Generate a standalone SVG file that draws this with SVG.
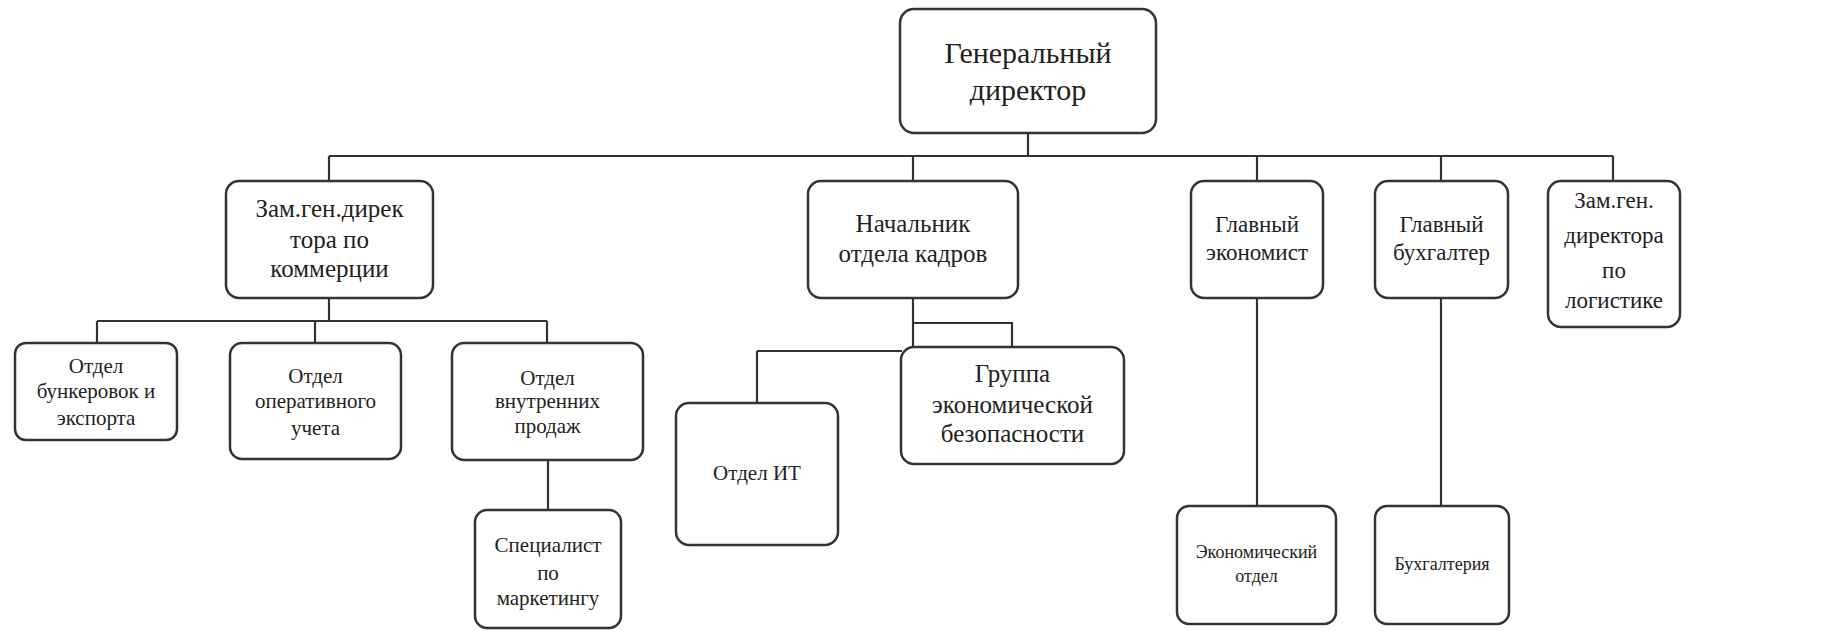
<svg xmlns="http://www.w3.org/2000/svg" width="1833" height="631" viewBox="0 0 1833 631">
<style>
.box{fill:#fff;stroke:#333;stroke-width:2.5}
.ln{fill:none;stroke:#333;stroke-width:2.2}
.t{font-family:'Liberation Serif',serif;fill:#222;text-anchor:middle}
.f1{font-size:30px}
.f2{font-size:25px}
.f5{font-size:23px}
.f3{font-size:21px}
.f4{font-size:18px}
</style>
<rect width="1833" height="631" fill="#fff"/>
<g id="connectors">
<path class="ln" d="M1028 133V156M329 156H1613M329 156V181M913 156V181M1257 156V181M1441 156V181M1613 156V181"/>
<path class="ln" d="M329 298V321M97 321H547M97 321V343M315 321V343M547 321V343M548 460V510"/>
<path class="ln" d="M913 298V347M913 323H1012V347M757 351H902M757 351V403"/>
<path class="ln" d="M1257 298V506M1441 298V506"/>
</g>
<g id="n-gendir"><rect class="box" x="900" y="9" width="256" height="124" rx="14"/><text class="t f1" x="1028" y="63">Генеральный</text><text class="t f1" x="1028" y="100">директор</text></g>
<g id="n-zamcom"><rect class="box" x="226" y="181" width="207" height="117" rx="13"/><text class="t f2" x="329.5" y="217">Зам.ген.дирек</text><text class="t f2" x="329.5" y="248">тора по</text><text class="t f2" x="329.5" y="277">коммерции</text></g>
<g id="n-hr"><rect class="box" x="808" y="181" width="210" height="117" rx="13"/><text class="t f2" x="913" y="232">Начальник</text><text class="t f2" x="913" y="262">отдела кадров</text></g>
<g id="n-econ"><rect class="box" x="1191" y="181" width="132" height="117" rx="13"/><text class="t f5" x="1257" y="232">Главный</text><text class="t f5" x="1257" y="260">экономист</text></g>
<g id="n-buh"><rect class="box" x="1375" y="181" width="133" height="117" rx="13"/><text class="t f5" x="1441.5" y="232">Главный</text><text class="t f5" x="1441.5" y="260">бухгалтер</text></g>
<g id="n-zamlog"><rect class="box" x="1548" y="181" width="132" height="146" rx="13"/><text class="t f5" x="1614" y="208">Зам.ген.</text><text class="t f5" x="1614" y="243">директора</text><text class="t f5" x="1614" y="278">по</text><text class="t f5" x="1614" y="308">логистике</text></g>
<g id="n-bunker"><rect class="box" x="15" y="343" width="162" height="97" rx="11"/><text class="t f3" x="96" y="373">Отдел</text><text class="t f3" x="96" y="398">бункеровок и</text><text class="t f3" x="96" y="425">экспорта</text></g>
<g id="n-oper"><rect class="box" x="230" y="343" width="171" height="116" rx="12"/><text class="t f3" x="315.5" y="383">Отдел</text><text class="t f3" x="315.5" y="408">оперативного</text><text class="t f3" x="315.5" y="435">учета</text></g>
<g id="n-sales"><rect class="box" x="452" y="343" width="191" height="117" rx="12"/><text class="t f3" x="547.5" y="385">Отдел</text><text class="t f3" x="547.5" y="408">внутренних</text><text class="t f3" x="547.5" y="433">продаж</text></g>
<g id="n-mkt"><rect class="box" x="475" y="510" width="146" height="118" rx="12"/><text class="t f3" x="548" y="552">Специалист</text><text class="t f3" x="548" y="580">по</text><text class="t f3" x="548" y="605">маркетингу</text></g>
<g id="n-it"><rect class="box" x="676" y="403" width="162" height="142" rx="13"/><text class="t f3" x="757" y="480">Отдел ИТ</text></g>
<g id="n-sec"><rect class="box" x="901" y="347" width="223" height="117" rx="13"/><text class="t f2" x="1012.5" y="382">Группа</text><text class="t f2" x="1012.5" y="413">экономической</text><text class="t f2" x="1012.5" y="442">безопасности</text></g>
<g id="n-econdep"><rect class="box" x="1177" y="506" width="159" height="118" rx="12"/><text class="t f4" x="1256.5" y="558">Экономический</text><text class="t f4" x="1256.5" y="582">отдел</text></g>
<g id="n-acc"><rect class="box" x="1375" y="506" width="134" height="118" rx="12"/><text class="t f4" x="1442" y="570">Бухгалтерия</text></g>
</svg>
